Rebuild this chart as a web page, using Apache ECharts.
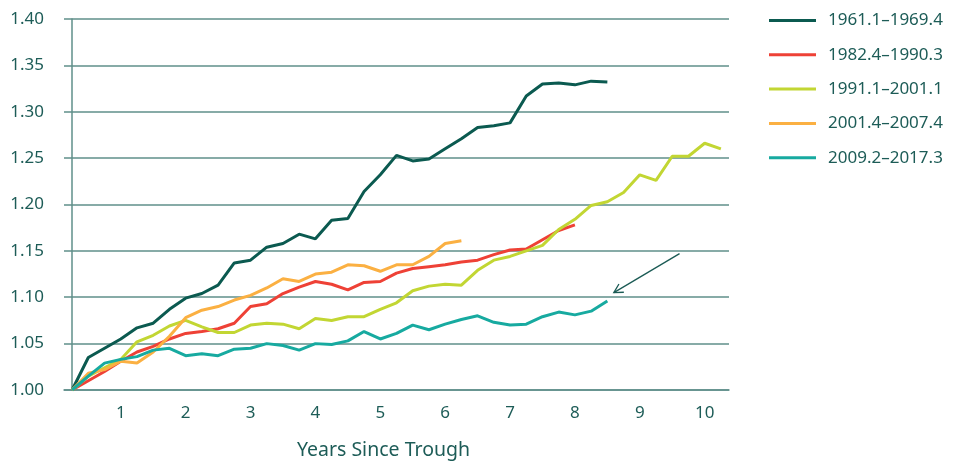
<!DOCTYPE html>
<html>
<head>
<meta charset="utf-8">
<script src="https://cdn.jsdelivr.net/npm/echarts@6/dist/echarts.min.js"></script>
<style>
    html, body { margin: 0; padding: 0; background: #fff; }
    #chart { width: 964px; height: 461px; }
</style>
</head>
<body>
<div id="chart"></div>
<script>
// quarters since trough (quarter 1 = trough), labels every 4th quarter
var quarters = ['1', '2', '3', '4', '5', '6', '7', '8', '9', '10', '11', '12', '13', '14', '15', '16', '17', '18', '19', '20',
    '21', '22', '23', '24', '25', '26', '27', '28', '29', '30', '31', '32', '33', '34', '35', '36', '37', '38', '39', '40', '41'];
var yearTicks = ['1', '2', '3', '4', '5', '6', '7', '8', '9', '10'];

var names = ['1961.1–1969.4', '1982.4–1990.3', '1991.1–2001.1', '2001.4–2007.4', '2009.2–2017.3'];
var colors = ['#0b5a50', '#ee4136', '#c2d633', '#fbb042', '#17aaa0'];

var s1961 = [1.000, 1.035, 1.045, 1.055, 1.067, 1.072, 1.087, 1.099, 1.104, 1.113, 1.137, 1.140, 1.154, 1.158, 1.168, 1.163, 1.183,
    1.185, 1.214, 1.232, 1.253, 1.247, 1.249, 1.260, 1.271, 1.283, 1.285, 1.288, 1.317, 1.330, 1.331, 1.329, 1.333, 1.332];
var s1982 = [1.000, 1.010, 1.020, 1.031, 1.041, 1.047, 1.055, 1.061, 1.063, 1.066, 1.072, 1.090, 1.093, 1.104, 1.111, 1.117, 1.114,
    1.108, 1.116, 1.117, 1.126, 1.131, 1.133, 1.135, 1.138, 1.140, 1.146, 1.151, 1.152, 1.162, 1.172, 1.178];
var s1991 = [1.000, 1.015, 1.024, 1.033, 1.052, 1.059, 1.069, 1.075, 1.068, 1.062, 1.062, 1.070, 1.072, 1.071, 1.066, 1.077, 1.075,
    1.079, 1.079, 1.087, 1.094, 1.107, 1.112, 1.114, 1.113, 1.129, 1.140, 1.144, 1.150, 1.156, 1.173, 1.184, 1.199, 1.203, 1.213,
    1.232, 1.226, 1.252, 1.252, 1.266, 1.260];
var s2001 = [1.000, 1.018, 1.022, 1.031, 1.029, 1.041, 1.058, 1.078, 1.086, 1.090, 1.097, 1.102, 1.110, 1.120, 1.117, 1.125, 1.127,
    1.135, 1.134, 1.128, 1.135, 1.135, 1.144, 1.158, 1.161];
var s2009 = [1.000, 1.015, 1.029, 1.033, 1.036, 1.043, 1.045, 1.037, 1.039, 1.037, 1.044, 1.045, 1.050, 1.048, 1.043, 1.050, 1.049,
    1.053, 1.063, 1.055, 1.061, 1.070, 1.065, 1.071, 1.076, 1.080, 1.073, 1.070, 1.071, 1.079, 1.084, 1.081, 1.085, 1.096];

// arrow annotation, [quarter index, value]
var arrowFrom = [37.45, 1.147];
var arrowTo = [33.4, 1.105];

var textColor = '#1d5c57';
var gridColor = '#5f8f8a';
var font = 'Noto Sans';

var chart = echarts.init(document.getElementById('chart'));

var seriesData = [s1961, s1982, s1991, s2001, s2009];
var lineSeries = seriesData.map(function (d, i) {
    return {
        name: names[i],
        type: 'line',
        data: d,
        showSymbol: false,
        symbol: 'none',
        smooth: false,
        itemStyle: { color: colors[i] },
        lineStyle: { color: colors[i], width: 3 },
        z: 3
    };
});

// arrow drawn through the hidden value axis
lineSeries.push({
    type: 'custom',
    xAxisIndex: 1,
    yAxisIndex: 0,
    silent: true,
    z: 4,
    data: [[arrowFrom[0], arrowFrom[1], arrowTo[0], arrowTo[1]]],
    renderItem: function (params, api) {
        var p0 = api.coord([api.value(0), api.value(1)]);
        var p1 = api.coord([api.value(2), api.value(3)]);
        var ang = Math.atan2(p0[1] - p1[1], p0[0] - p1[0]);
        var len = 10, spread = 0.5;
        var h1 = [p1[0] + len * Math.cos(ang + spread), p1[1] + len * Math.sin(ang + spread)];
        var h2 = [p1[0] + len * Math.cos(ang - spread), p1[1] + len * Math.sin(ang - spread)];
        var style = { stroke: '#1b5b55', lineWidth: 1.3, fill: null };
        return {
            type: 'group',
            children: [
                { type: 'line', shape: { x1: p0[0], y1: p0[1], x2: p1[0], y2: p1[1] }, style: style },
                { type: 'polyline', shape: { points: [h1, p1, h2] }, style: style }
            ]
        };
    }
});

var option = {
    animation: false,
    textStyle: { fontFamily: font },
    grid: {
        left: 64,
        right: 235,
        top: 19,
        bottom: 71,
        containLabel: false,
        outerBoundsMode: 'none'
    },
    legend: {
        data: names,
        orient: 'vertical',
        left: 769,
        top: 12,
        padding: 0,
        icon: 'rect',
        itemWidth: 47,
        itemHeight: 3,
        itemGap: 17.3,
        selectedMode: false,
        textStyle: {
            color: textColor,
            fontSize: 17,
            lineHeight: 17,
            fontFamily: font,
            padding: [0, 0, 0, 7]
        }
    },
    xAxis: [{
        type: 'category',
        data: quarters,
        boundaryGap: true,
        name: 'Years Since Trough',
        nameLocation: 'middle',
        nameGap: 50,
        nameTextStyle: { color: textColor, fontSize: 19.5, fontFamily: font, padding: [0, 26, 0, 0] },
        axisLine: { show: true, lineStyle: { color: gridColor, width: 1.5 } },
        axisTick: { show: false },
        axisLabel: {
            color: textColor,
            fontSize: 17,
            margin: 15,
            interval: function (index) { return index % 4 === 3; },
            formatter: function (value, index) {
                return index % 4 === 3 ? yearTicks[(index - 3) / 4] : '';
            }
        },
        splitLine: { show: false }
    }, {
        type: 'value',
        min: -0.5,
        max: 40.5,
        show: false
    }],
    yAxis: {
        type: 'value',
        min: 1,
        max: 1.4,
        interval: 0.05,
        axisLine: { show: true, lineStyle: { color: gridColor, width: 1.5 } },
        axisTick: { show: false },
        axisLabel: {
            color: textColor,
            fontSize: 17,
            margin: 20,
            formatter: function (v) { return v.toFixed(2); }
        },
        splitLine: { show: true, lineStyle: { color: gridColor, width: 1.5 } }
    },
    series: lineSeries
};
chart.setOption(option);

window.addEventListener('resize', function () {
    chart.resize();
});
</script>
</body>
</html>
